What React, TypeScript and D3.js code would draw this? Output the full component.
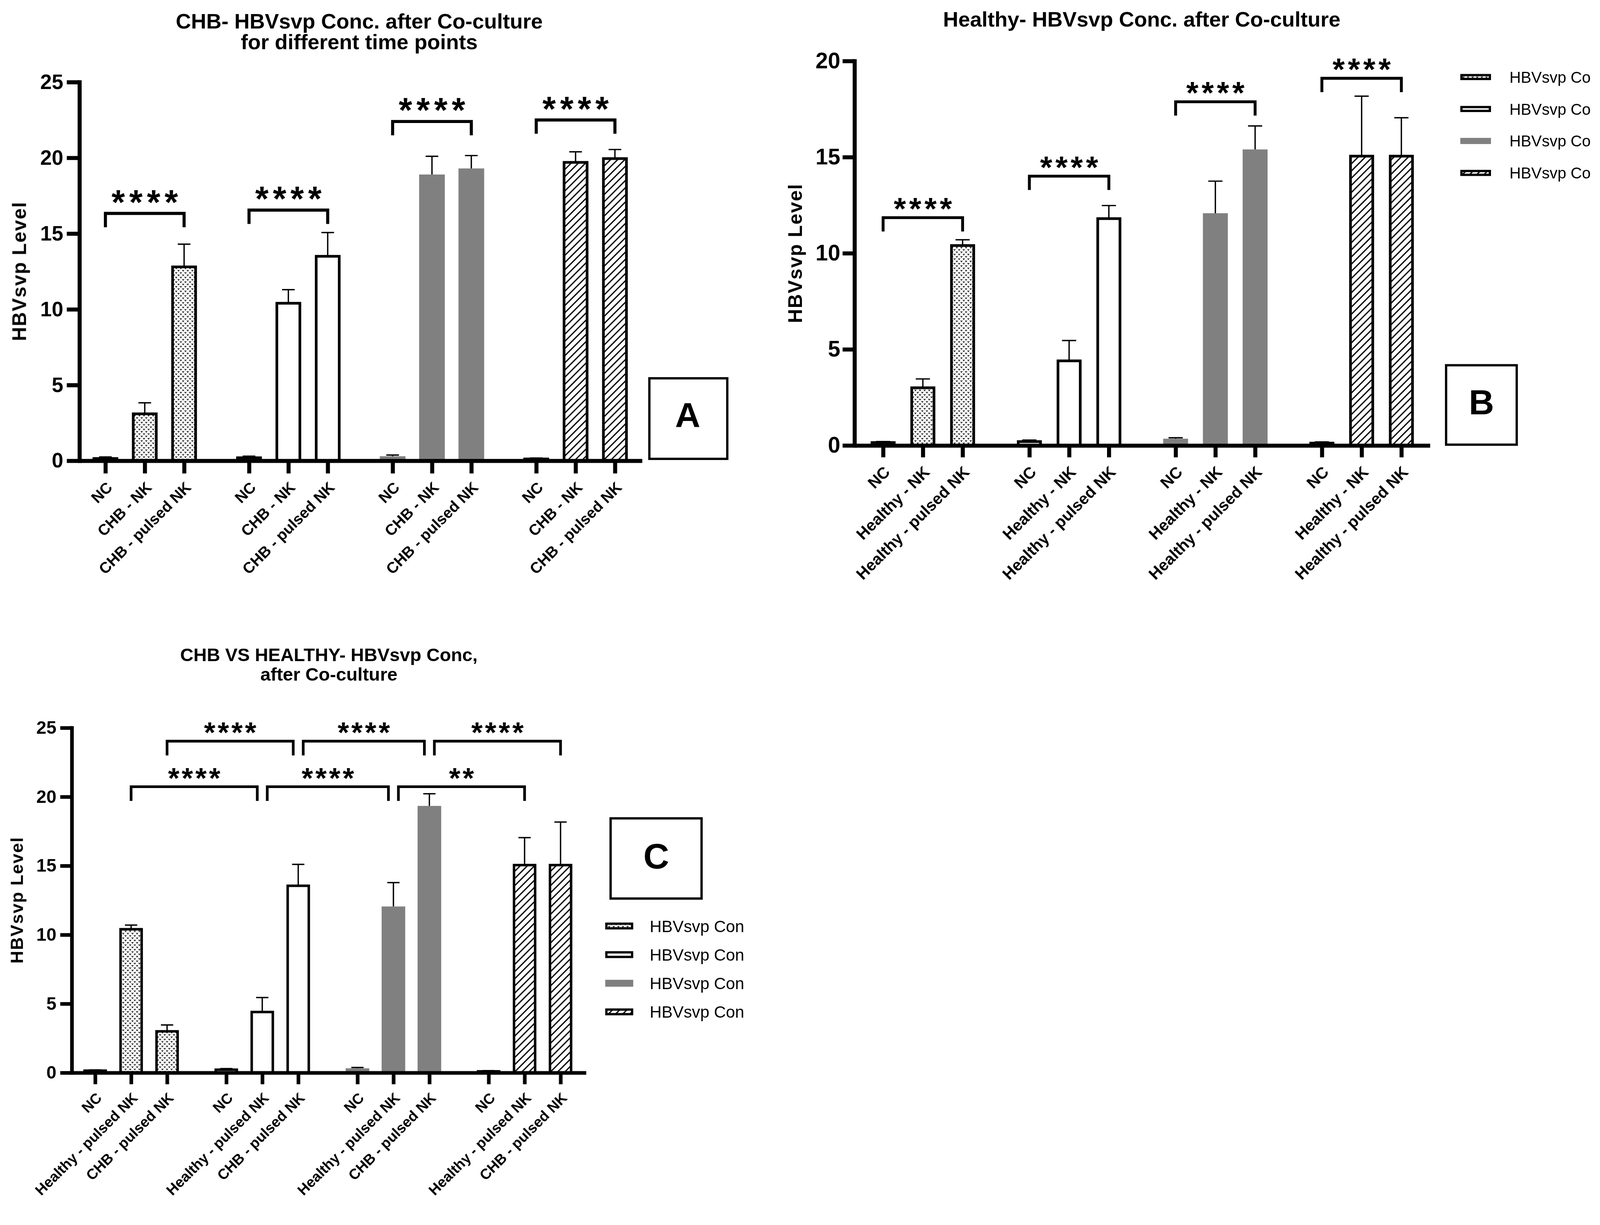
import { useEffect, useRef } from 'react';
import * as d3 from 'd3';

const WIDTH = 4169;
const HEIGHT = 3137;
const FONT = '"Liberation Sans", Arial, Helvetica, sans-serif';
const GRAY = '#808080';

// fill style of each time-point group (same order in every panel)
const GROUP_STYLES = ['dots', 'open', 'gray', 'hatch'];
const Y_LABEL = 'HBVsvp Level';
const PANEL_TAGS = ['A', 'B', 'C'];

interface Bracket {
    from: [number, number];
    to: [number, number];
    level: number;
    label: string;
}

// ---- Panel A: CHB, different time points
const A_TITLE = ['CHB- HBVsvp Conc. after Co-culture', 'for different time points'];
const A_CATEGORIES = ['NC', 'CHB - NK', 'CHB - pulsed NK'];
const A_MEANS = [
    [0.15, 3.1, 12.8],
    [0.2, 10.4, 13.5],
    [0.3, 18.9, 19.3],
    [0.12, 19.7, 19.95],
];
const A_SEM = [
    [0.1, 0.73, 1.5],
    [0.1, 0.9, 1.57],
    [0.08, 1.2, 0.85],
    [0.06, 0.7, 0.6],
];
const A_Y_TICKS = [0, 5, 10, 15, 20, 25];
const A_BRACKETS: Bracket[] = [
    { from: [0, 0], to: [0, 2], level: 16.33, label: '****' },
    { from: [1, 0], to: [1, 2], level: 16.55, label: '****' },
    { from: [2, 0], to: [2, 2], level: 22.4, label: '****' },
    { from: [3, 0], to: [3, 2], level: 22.5, label: '****' },
];

// ---- Panel B: Healthy
const B_TITLE = ['Healthy- HBVsvp Conc. after Co-culture'];
const B_CATEGORIES = ['NC', 'Healthy - NK', 'Healthy - pulsed NK'];
const B_MEANS = [
    [0.15, 3.0, 10.4],
    [0.2, 4.4, 11.8],
    [0.35, 12.08, 15.4],
    [0.12, 15.05, 15.05],
];
const B_SEM = [
    [0.05, 0.46, 0.3],
    [0.08, 1.06, 0.68],
    [0.05, 1.67, 1.22],
    [0.06, 3.12, 2.0],
];
const B_Y_TICKS = [0, 5, 10, 15, 20];
const B_BRACKETS: Bracket[] = [
    { from: [0, 0], to: [0, 2], level: 11.85, label: '****' },
    { from: [1, 0], to: [1, 2], level: 14.01, label: '****' },
    { from: [2, 0], to: [2, 2], level: 17.88, label: '****' },
    { from: [3, 0], to: [3, 2], level: 19.1, label: '****' },
];
const B_LEGEND = ['HBVsvp Co', 'HBVsvp Co', 'HBVsvp Co', 'HBVsvp Co'];

// ---- Panel C: CHB vs Healthy
const C_TITLE = ['CHB VS HEALTHY- HBVsvp Conc,', 'after Co-culture'];
const C_CATEGORIES = ['NC', 'Healthy - pulsed NK', 'CHB - pulsed NK'];
const C_MEANS = [
    [0.15, 10.4, 3.0],
    [0.22, 4.4, 13.55],
    [0.32, 12.05, 19.34],
    [0.1, 15.05, 15.05],
];
const C_SEM = [
    [0.05, 0.3, 0.46],
    [0.08, 1.05, 1.55],
    [0.06, 1.73, 0.88],
    [0.05, 1.99, 3.12],
];
const C_Y_TICKS = [0, 5, 10, 15, 20, 25];
const C_BRACKETS: Bracket[] = [
    { from: [0, 2], to: [1, 2], level: 24.03, label: '****' },
    { from: [1, 2], to: [2, 2], level: 24.03, label: '****' },
    { from: [2, 2], to: [3, 2], level: 24.03, label: '****' },
    { from: [0, 1], to: [1, 1], level: 20.73, label: '****' },
    { from: [1, 1], to: [2, 1], level: 20.73, label: '****' },
    { from: [2, 1], to: [3, 1], level: 20.73, label: '**' },
];
const C_LEGEND = ['HBVsvp Con', 'HBVsvp Con', 'HBVsvp Con', 'HBVsvp Con'];

interface PanelData {
    title: string[];
    categories: string[];
    means: number[][];
    sems: number[][];
    yTicks: number[];
    brackets: Bracket[];
    tag: string;
}

// layout of each panel, in page pixels
const LAYOUT_A = {
    axisX: 207, axisEnd: 1673, y0: 1201, yTop: 214, yMax: 25,
    slots: [-0.66, 13.64], groupStep: 3.65,
    barWidth: 60, barStroke: 7, axisWidth: 10.5, tickLen: 33, tickPad: 9,
    tickFont: 54, xLabelFont: 40, xLabelShift: [20, 72],
    capWidth: 33, errWidth: 3.5,
    yLabel: { x: 68, y: 707, size: 51 },
    title: { x: 936, ys: [74, 128], size: 55 },
    bracket: { stroke: 8, leg: 36, star: 90, starGap: 50, spacing: 11, shift: 13 },
    box: { x: 1692, y: 986, w: 203, h: 210, tx: 1792, ty: 1114, size: 91 },
};

const LAYOUT_B = {
    axisX: 2226.5, axisEnd: 3726, y0: 1161, yTop: 159, yMax: 20,
    slots: [-0.72, 13.76], groupStep: 3.68,
    barWidth: 58, barStroke: 7, axisWidth: 10.5, tickLen: 31, tickPad: 6,
    tickFont: 58, xLabelFont: 42, xLabelShift: [20, 72],
    capWidth: 37, errWidth: 3.5,
    yLabel: { x: 2090, y: 660, size: 51 },
    title: { x: 2975, ys: [69], size: 55 },
    bracket: { stroke: 7.5, leg: 36, star: 82, starGap: 42, spacing: 8, shift: 13 },
    box: { x: 3768, y: 952, w: 184, h: 207, tx: 3860, ty: 1080, size: 91 },
};

const LAYOUT_C = {
    axisX: 187, axisEnd: 1527, y0: 2796, yTop: 1897, yMax: 25,
    slots: [-0.65, 13.65], groupStep: 3.647,
    barWidth: 55, barStroke: 6.5, axisWidth: 9.5, tickLen: 30, tickPad: 10,
    tickFont: 47, xLabelFont: 38, xLabelShift: [19, 68],
    capWidth: 32, errWidth: 3.5,
    yLabel: { x: 60, y: 2346, size: 46 },
    title: { x: 857, ys: [1723, 1774], size: 48 },
    bracket: { stroke: 7, leg: 37, star: 76, starGap: 40, spacing: 6, shift: 13 },
    box: { x: 1591, y: 2133, w: 237, h: 209, tx: 1710, ty: 2264, size: 93 },
};

const LEGEND_B = { x: 3805, w: 80, h: 16, top: 200.8, step: 83.3, textX: 3933, size: 41, stroke: 6 };
const LEGEND_C = { x: 1577, w: 73, h: 18, top: 2413.6, step: 74.6, textX: 1693, size: 43, stroke: 6 };

type Layout = typeof LAYOUT_A;
type Sel = d3.Selection<SVGSVGElement, unknown, null, undefined>;

function fillFor(style: string) {
    if (style === 'dots') return 'url(#dots)';
    if (style === 'hatch') return 'url(#hatch)';
    if (style === 'gray') return GRAY;
    return '#fff';
}

function drawPanel(svg: Sel, L: Layout, d: PanelData) {
    const g = svg.append('g');

    const y = d3.scaleLinear().domain([0, L.yMax]).range([L.y0, L.yTop]);
    const x = d3.scaleLinear().domain(L.slots).range([L.axisX, L.axisEnd]);
    const slot = (gi: number, bi: number) => gi * L.groupStep + bi;

    // Title
    d.title.forEach((line, i) => {
        g.append('text')
            .attr('x', L.title.x)
            .attr('y', L.title.ys[i])
            .attr('text-anchor', 'middle')
            .attr('font-family', FONT)
            .attr('font-weight', 'bold')
            .attr('font-size', L.title.size)
            .text(line);
    });

    // Bars
    const bars = d.means.flatMap((row, gi) => row.map((mean, bi) => ({
        gi, bi, mean, sem: d.sems[gi][bi], style: GROUP_STYLES[gi],
        cx: x(slot(gi, bi)),
    })));

    g.selectAll('.bar')
        .data(bars)
        .join('rect')
        .attr('class', 'bar')
        .attr('x', b => b.cx - (b.style === 'gray' ? (L.barWidth + L.barStroke) / 2 : L.barWidth / 2))
        .attr('width', b => b.style === 'gray' ? L.barWidth + L.barStroke : L.barWidth)
        .attr('y', b => y(b.mean))
        .attr('height', b => y(0) - y(b.mean))
        .attr('fill', b => fillFor(b.style))
        .attr('stroke', b => b.style === 'gray' ? 'none' : '#000')
        .attr('stroke-width', L.barStroke);

    // Error bars (upper only)
    const err = g.selectAll('.err')
        .data(bars)
        .join('g')
        .attr('class', 'err')
        .attr('stroke', '#000')
        .attr('stroke-width', L.errWidth);
    err.append('line')
        .attr('x1', b => b.cx).attr('x2', b => b.cx)
        .attr('y1', b => y(b.mean))
        .attr('y2', b => y(b.mean + b.sem));
    err.append('line')
        .attr('x1', b => b.cx - L.capWidth / 2).attr('x2', b => b.cx + L.capWidth / 2)
        .attr('y1', b => y(b.mean + b.sem))
        .attr('y2', b => y(b.mean + b.sem));

    // Y axis
    const yAxis = g.append('g')
        .attr('transform', `translate(${L.axisX},0)`)
        .call(d3.axisLeft(y).tickValues(d.yTicks).tickSize(L.tickLen).tickSizeOuter(0)
            .tickPadding(L.tickPad).tickFormat(d3.format('d')));
    yAxis.attr('color', '#000')
        .attr('font-family', FONT)
        .attr('font-weight', 'bold')
        .attr('font-size', L.tickFont);
    yAxis.selectAll('line, path').attr('stroke-width', L.axisWidth);
    yAxis.select('.domain').attr('stroke-linecap', 'square');

    // X axis with rotated category labels
    const slotValues = bars.map(b => slot(b.gi, b.bi));
    const xAxis = g.append('g')
        .attr('transform', `translate(0,${L.y0})`)
        .call(d3.axisBottom(x).tickValues(slotValues).tickSize(L.tickLen).tickSizeOuter(0)
            .tickFormat((_, i) => d.categories[i % 3]));
    xAxis.attr('color', '#000')
        .attr('font-family', FONT)
        .attr('font-weight', 'bold')
        .attr('font-size', L.xLabelFont);
    xAxis.selectAll('line, path').attr('stroke-width', L.axisWidth);
    xAxis.selectAll('text')
        .attr('y', 0)
        .attr('dy', 0)
        .attr('text-anchor', 'end')
        .attr('transform', `translate(${L.xLabelShift[0]},${L.xLabelShift[1]}) rotate(-45)`);

    // Y axis title
    g.append('text')
        .attr('transform', `translate(${L.yLabel.x},${L.yLabel.y}) rotate(-90)`)
        .attr('text-anchor', 'middle')
        .attr('font-family', FONT)
        .attr('font-weight', 'bold')
        .attr('font-size', L.yLabel.size)
        .attr('letter-spacing', 2)
        .text(Y_LABEL);

    // Significance brackets
    const key = (p: [number, number]) => `${p[0]}-${p[1]}`;
    d.brackets.forEach(br => {
        const row = d.brackets.filter(o => o.level === br.level);
        const shared = (p: [number, number]) =>
            row.filter(o => key(o.from) === key(p) || key(o.to) === key(p)).length > 1;
        let x1 = x(slot(br.from[0], br.from[1]));
        let x2 = x(slot(br.to[0], br.to[1]));
        if (shared(br.from)) x1 += L.bracket.shift;
        if (shared(br.to)) x2 -= L.bracket.shift;
        const yl = y(br.level);

        g.append('path')
            .attr('d', `M${x1},${yl + L.bracket.leg}V${yl}H${x2}V${yl + L.bracket.leg}`)
            .attr('fill', 'none')
            .attr('stroke', '#000')
            .attr('stroke-width', L.bracket.stroke);

        g.append('text')
            .attr('x', (x1 + x2) / 2 + L.bracket.spacing / 2)
            .attr('y', yl - L.bracket.starGap + 0.57 * L.bracket.star)
            .attr('text-anchor', 'middle')
            .attr('font-family', FONT)
            .attr('font-weight', 'bold')
            .attr('font-size', L.bracket.star)
            .attr('letter-spacing', L.bracket.spacing)
            .text(br.label);
    });

    // Panel tag box
    g.append('rect')
        .attr('x', L.box.x).attr('y', L.box.y)
        .attr('width', L.box.w).attr('height', L.box.h)
        .attr('fill', 'none')
        .attr('stroke', '#000')
        .attr('stroke-width', 6);
    g.append('text')
        .attr('x', L.box.tx).attr('y', L.box.ty)
        .attr('text-anchor', 'middle')
        .attr('font-family', FONT)
        .attr('font-weight', 'bold')
        .attr('font-size', L.box.size)
        .text(d.tag);
}

function drawLegend(svg: Sel, L: typeof LEGEND_B, labels: string[]) {
    const g = svg.append('g');
    labels.forEach((label, i) => {
        const cy = L.top + i * L.step;
        const style = GROUP_STYLES[i];
        if (style === 'gray') {
            g.append('rect')
                .attr('x', L.x).attr('y', cy - L.h / 2)
                .attr('width', L.w).attr('height', L.h)
                .attr('fill', GRAY);
        } else {
            g.append('rect')
                .attr('x', L.x + L.stroke / 2).attr('y', cy - L.h / 2 + L.stroke / 2)
                .attr('width', L.w - L.stroke).attr('height', L.h - L.stroke)
                .attr('fill', fillFor(style))
                .attr('stroke', '#000')
                .attr('stroke-width', L.stroke);
        }
        g.append('text')
            .attr('x', L.textX)
            .attr('y', cy + 0.36 * L.size)
            .attr('font-family', FONT)
            .attr('font-size', L.size)
            .text(label);
    });
}

export default function App() {
    const svgRef = useRef<SVGSVGElement>(null);

    useEffect(() => {
        if (!svgRef.current) return;
        const svg = d3.select(svgRef.current);
        svg.selectAll('*').remove();

        svg.append('rect').attr('width', WIDTH).attr('height', HEIGHT).attr('fill', '#fff');

        // Bar fill patterns
        const defs = svg.append('defs');
        const dots = defs.append('pattern')
            .attr('id', 'dots')
            .attr('patternUnits', 'userSpaceOnUse')
            .attr('width', 12).attr('height', 12);
        dots.append('rect').attr('width', 12).attr('height', 12).attr('fill', '#fff');
        [[1, 1.5], [7, 7.5]].forEach(([px, py]) => {
            dots.append('path')
                .attr('d', `M${px},${py}l2.2,3l2.2,-3`)
                .attr('fill', 'none')
                .attr('stroke', '#000')
                .attr('stroke-width', 1.8);
        });

        const hatch = defs.append('pattern')
            .attr('id', 'hatch')
            .attr('patternUnits', 'userSpaceOnUse')
            .attr('width', 13.2).attr('height', 13.2)
            .attr('patternTransform', 'rotate(45)');
        hatch.append('rect').attr('width', 13.2).attr('height', 13.2).attr('fill', '#fff');
        hatch.append('line')
            .attr('x1', 6.6).attr('x2', 6.6)
            .attr('y1', 0).attr('y2', 13.2)
            .attr('stroke', '#000')
            .attr('stroke-width', 3.3);

        drawPanel(svg, LAYOUT_A, {
            title: A_TITLE, categories: A_CATEGORIES, means: A_MEANS, sems: A_SEM,
            yTicks: A_Y_TICKS, brackets: A_BRACKETS, tag: PANEL_TAGS[0],
        });
        drawPanel(svg, LAYOUT_B, {
            title: B_TITLE, categories: B_CATEGORIES, means: B_MEANS, sems: B_SEM,
            yTicks: B_Y_TICKS, brackets: B_BRACKETS, tag: PANEL_TAGS[1],
        });
        drawPanel(svg, LAYOUT_C, {
            title: C_TITLE, categories: C_CATEGORIES, means: C_MEANS, sems: C_SEM,
            yTicks: C_Y_TICKS, brackets: C_BRACKETS, tag: PANEL_TAGS[2],
        });

        drawLegend(svg, LEGEND_B, B_LEGEND);
        drawLegend(svg, LEGEND_C, C_LEGEND);
    }, []);

    // fill the whole viewport, whatever its exact size
    return (
        <svg
            ref={svgRef}
            viewBox={`0 0 ${WIDTH} ${HEIGHT}`}
            preserveAspectRatio="xMinYMin meet"
            style={{ position: 'fixed', left: 0, top: 0, width: '100vw', height: '100vh', display: 'block' }}
        />
    );
}
